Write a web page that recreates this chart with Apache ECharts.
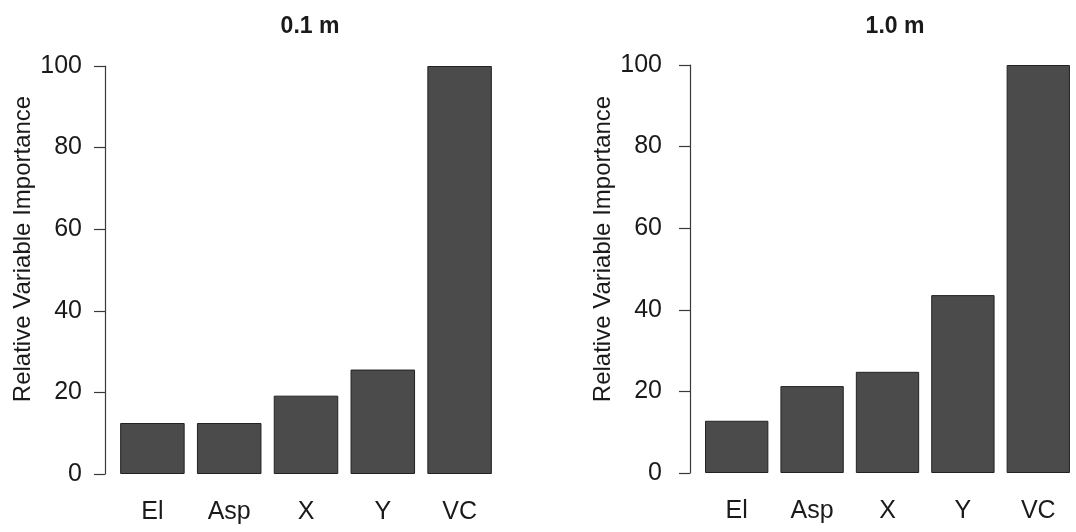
<!DOCTYPE html>
<html>
<head>
<meta charset="utf-8">
<style>
  html, body { margin: 0; padding: 0; background: #ffffff; }
  #chart { width: 1076px; height: 532px; }
</style>
<script src="https://cdn.jsdelivr.net/npm/echarts@6/dist/echarts.min.js"></script>
</head>
<body>
<div id="chart"></div>
<script>
// Variables and their relative importance at two resolutions
const categories = ['El', 'Asp', 'X', 'Y', 'VC'];
const importance01 = [12.5, 12.5, 19.2, 25.6, 100];
const importance10 = [12.8, 21.3, 24.8, 43.6, 100];
const panelTitles = ['0.1 m', '1.0 m'];
const yAxisTitle = 'Relative Variable Importance';

const FONT = '"Liberation Sans", Arial, Helvetica, sans-serif';
const INK = '#1a1a1a';

const grids = [
  { left: 114, top: 66, width: 384, height: 408 },
  { left: 699, top: 65, width: 384, height: 408 }
];

function makeXAxis(i) {
  return {
    type: 'category',
    gridIndex: i,
    data: categories,
    boundaryGap: true,
    axisLine: { show: false },
    axisTick: { show: false },
    axisLabel: { color: INK, fontSize: 25, fontFamily: FONT, margin: 26 }
  };
}

function makeYAxis(i, labelMargin) {
  return {
    type: 'value',
    gridIndex: i,
    min: 0,
    max: 100,
    interval: 20,
    offset: 9,
    splitLine: { show: false },
    axisLine: { show: true, lineStyle: { color: '#3a3a3a', width: 1.2 } },
    axisTick: { show: true, length: 11, lineStyle: { color: '#3a3a3a', width: 1.2 } },
    axisLabel: { color: INK, fontSize: 25, fontFamily: FONT, margin: labelMargin }
  };
}

function makeSeries(i, values) {
  return {
    type: 'bar',
    xAxisIndex: i,
    yAxisIndex: i,
    data: values,
    barCategoryGap: '16%',
    itemStyle: { color: '#4b4b4b', borderColor: '#222222', borderWidth: 1 },
    emphasis: { disabled: true }
  };
}

const chart = echarts.init(document.getElementById('chart'), null, { renderer: 'canvas' });

chart.setOption({
  backgroundColor: '#ffffff',
  animation: false,
  title: panelTitles.map((t, i) => ({
    text: t,
    left: grids[i].left + grids[i].width / 2 - 1,
    textAlign: 'center',
    top: 10,
    textStyle: { color: INK, fontSize: 23, fontWeight: 'bold', fontFamily: FONT }
  })),
  grid: grids,
  xAxis: [makeXAxis(0), makeXAxis(1)],
  yAxis: [makeYAxis(0, 23), makeYAxis(1, 28)],
  series: [makeSeries(0, importance01), makeSeries(1, importance10)],
  graphic: [
    {
      type: 'text', x: 23, y: 249, rotation: Math.PI / 2,
      style: { text: yAxisTitle, fill: INK, fontSize: 24, fontFamily: FONT,
               textAlign: 'center', textVerticalAlign: 'middle' }
    },
    {
      type: 'text', x: 603, y: 249, rotation: Math.PI / 2,
      style: { text: yAxisTitle, fill: INK, fontSize: 24, fontFamily: FONT,
               textAlign: 'center', textVerticalAlign: 'middle' }
    }
  ]
});
</script>
</body>
</html>
